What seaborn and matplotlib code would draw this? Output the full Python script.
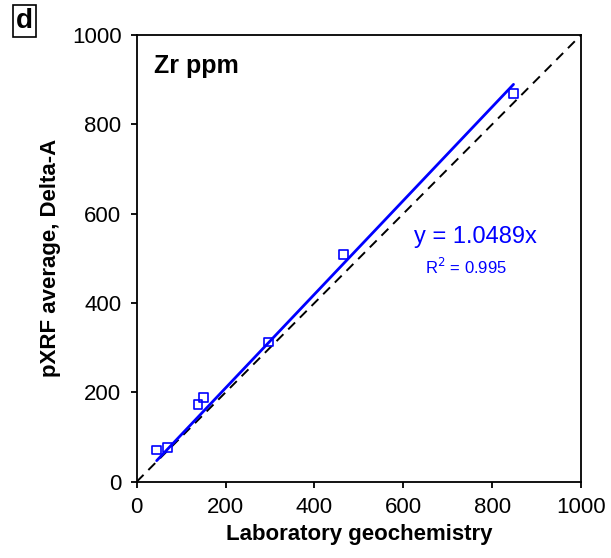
import numpy as np
import pandas as pd
import matplotlib
matplotlib.use("Agg")
import matplotlib.pyplot as plt
import seaborn as sns

# Zr ppm: laboratory vs pXRF (Delta-A)
lab_zr = [45, 69, 138, 151, 297, 465, 848]
pxrf_zr = [71, 77, 173, 189, 313, 509, 869]
slope = 1.0489
r2 = 0.995
ticks = [0, 200, 400, 600, 800, 1000]

df = pd.DataFrame({"lab": lab_zr, "pxrf": pxrf_zr})

sns.set_style("ticks")
plt.rcParams["font.family"] = ["Liberation Sans", "DejaVu Sans"]
plt.rcParams["text.color"] = "black"
plt.rcParams["axes.labelcolor"] = "black"
plt.rcParams["xtick.color"] = "black"
plt.rcParams["ytick.color"] = "black"

fig = plt.figure(figsize=(6.11, 5.58), dpi=100)
ax = fig.add_axes([0.2237, 0.1367, 0.7273, 0.8006])

# 1:1 line
ax.plot([0, 1000], [0, 1000], color="black", lw=1.4, ls=(0, (5, 3.5)), zorder=1)

# regression through origin
xfit = np.array([min(lab_zr), max(lab_zr)])
ax.plot(xfit, slope * xfit, color="#0000ff", lw=2.0, zorder=2)

sns.scatterplot(data=df, x="lab", y="pxrf", marker="s", s=40,
                facecolor="none", edgecolor="#0000ff", linewidth=1.2,
                ax=ax, zorder=3)

ax.set_xlim(0, 1000)
ax.set_ylim(0, 1000)
ax.set_xticks(ticks)
ax.set_yticks(ticks)
ax.tick_params(labelsize=16, length=4, width=1.3, pad=7, colors="black")
for s in ax.spines.values():
    s.set_linewidth(1.3)
    s.set_color("black")

ax.set_xlabel("Laboratory geochemistry", fontsize=16, fontweight="bold", labelpad=4)
ax.set_ylabel("pXRF average, Delta-A", fontsize=16, fontweight="bold", labelpad=8)

ax.text(0.04, 0.93, "Zr ppm", transform=ax.transAxes, fontsize=18,
        fontweight="bold", va="center", ha="left")
ax.text(0.762, 0.548, f"y = {slope}x", transform=ax.transAxes, fontsize=17,
        color="#0000ff", ha="center", va="center")
ax.text(0.74, 0.48, f"R$^2$ = {r2}", transform=ax.transAxes, fontsize=12,
        color="#0000ff", ha="center", va="center")

fig.text(0.04, 0.962, "d", fontsize=20, fontweight="bold", ha="center", va="center",
         bbox=dict(boxstyle="square,pad=0.1", facecolor="white", edgecolor="black", lw=1.2))

fig.savefig("out.png", dpi=100)
